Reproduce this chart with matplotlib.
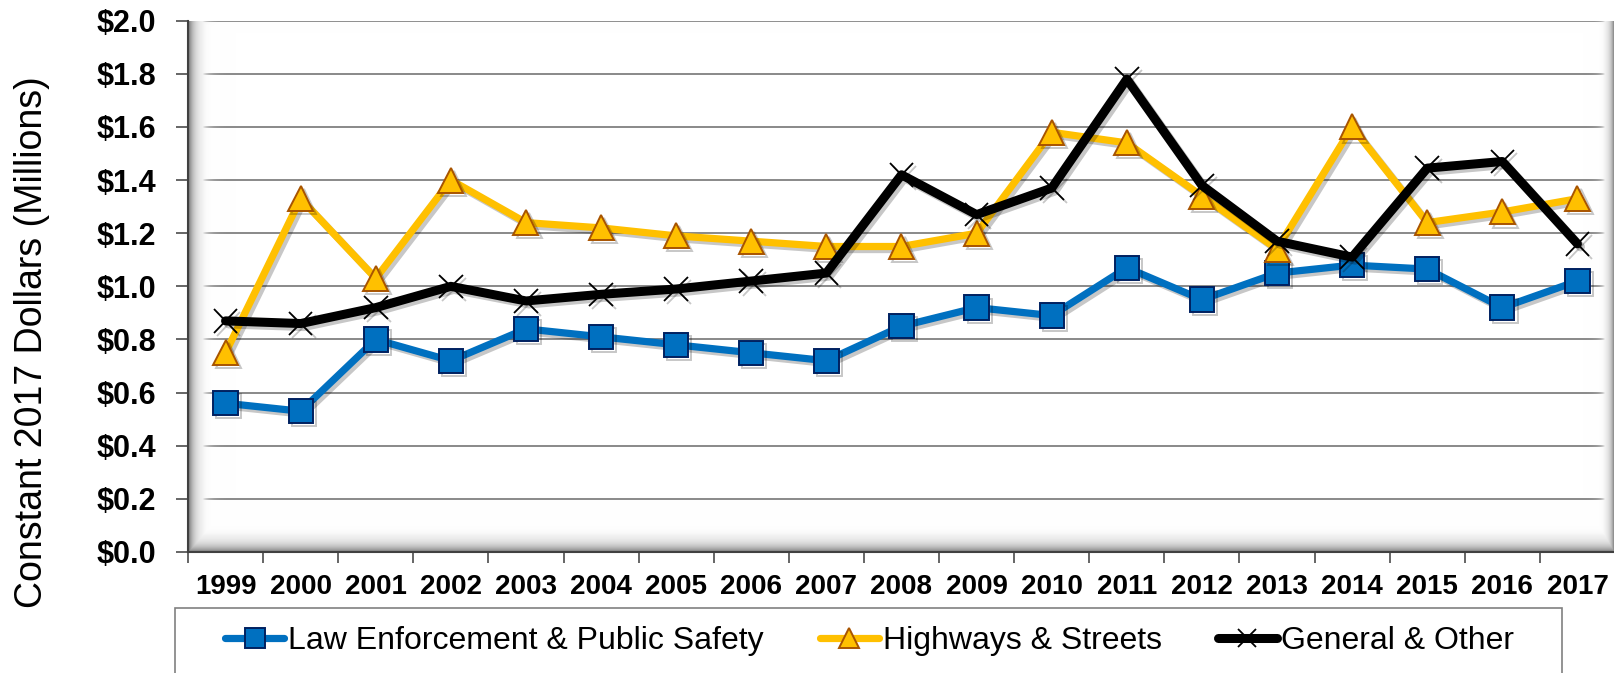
import numpy as np
import matplotlib
matplotlib.use("Agg")
import matplotlib.pyplot as plt
from matplotlib.patches import Rectangle
from matplotlib.lines import Line2D
import matplotlib.patheffects as pe

years = ["1999", "2000", "2001", "2002", "2003", "2004", "2005", "2006", "2007",
         "2008", "2009", "2010", "2011", "2012", "2013", "2014", "2015", "2016", "2017"]
law = [0.56, 0.53, 0.80, 0.72, 0.84, 0.81, 0.78, 0.75, 0.72, 0.85,
       0.92, 0.89, 1.07, 0.95, 1.05, 1.08, 1.065, 0.92, 1.02]
hwy = [0.75, 1.33, 1.03, 1.40, 1.24, 1.22, 1.19, 1.17, 1.15, 1.15,
       1.20, 1.58, 1.54, 1.34, 1.14, 1.60, 1.24, 1.28, 1.33]
gen = [0.87, 0.86, 0.92, 1.00, 0.945, 0.97, 0.99, 1.02, 1.05, 1.42,
       1.27, 1.37, 1.78, 1.38, 1.17, 1.11, 1.445, 1.47, 1.16]
y_ticks = [0.0, 0.2, 0.4, 0.6, 0.8, 1.0, 1.2, 1.4, 1.6, 1.8, 2.0]
series_names = ["Law Enforcement & Public Safety", "Highways & Streets", "General & Other"]

plt.rcParams["font.family"] = ["Liberation Sans", "DejaVu Sans"]

W_PX, H_PX = 1615, 673
fig = plt.figure(figsize=(W_PX / 100, H_PX / 100), dpi=100)
ax_l, ax_r, ax_t, ax_b = 188, 1615, 20.7, 552
ax = fig.add_axes([ax_l / W_PX, 1 - ax_b / H_PX, (ax_r - ax_l) / W_PX, (ax_b - ax_t) / H_PX])

x = np.arange(len(years))

# inner bevel shading of plot area
H, W = int(ax_b - ax_t), int(ax_r - ax_l)
yy, xx = np.mgrid[0:H, 0:W]
side = np.maximum.reduce([0.55 * np.exp(-xx / 6.0),
                          0.5 * np.exp(-(H - 1 - yy) / 7.0),
                          0.55 * np.exp(-(W - 1 - xx) / 4.0)])
top = 0.08 * np.exp(-yy / 4.0)
shade = np.maximum(side, top)
alpha = np.maximum(np.clip(side / 0.05, 0, 1), top)
img = np.zeros((H, W, 4))
img[..., 0] = img[..., 1] = img[..., 2] = 1 - shade
img[..., 3] = alpha
ax.imshow(img, extent=[0, 1, 0, 1], transform=ax.transAxes, aspect="auto",
          zorder=1.5, interpolation="bilinear")

shadow = [pe.SimpleLineShadow(offset=(2.2, -2.2), shadow_color="k", alpha=0.22), pe.Normal()]

styles = [
    dict(color="#0070C0", lw=5.2, marker="s", markersize=17.5, mfc="#0070C0", mec="#002060", mew=1.4),
    dict(color="#FFC000", lw=5.2, marker="^", markersize=18, mfc="#FFC000", mec="#A85400", mew=1.4),
    dict(color="#000000", lw=6.5, marker="x", markersize=17, mfc="none", mec="#000000", mew=1.3),
]
for vals, st in zip([law, hwy, gen], styles):
    ax.plot(x, vals, solid_capstyle="round", solid_joinstyle="round",
            zorder=3, path_effects=shadow, **st)

ax.set_xlim(-0.5, len(years) - 0.5)
ax.set_ylim(0, 2.0)
ax.set_yticks(y_ticks)
ax.set_yticklabels(["${:.1f}".format(v) for v in y_ticks], fontsize=22, fontweight="bold")
ax.yaxis.grid(True, color="#808080", lw=1.3, zorder=1)
ax.set_axisbelow(True)
ax.tick_params(axis="y", length=9, width=1.3, color="#595959", pad=14, direction="out")

ax.set_xticks(np.arange(-0.5, len(years), 1.0))
ax.set_xticklabels([])
ax.set_xticks(x, minor=True)
ax.set_xticklabels(years, minor=True, fontsize=20, fontweight="bold")
ax.tick_params(axis="x", which="major", length=8, width=1.3, color="#595959", direction="out")
ax.tick_params(axis="x", which="minor", length=0, pad=16)

for s in ["top", "right"]:
    ax.spines[s].set_visible(False)
for s in ["left", "bottom"]:
    ax.spines[s].set_color("#404040")
    ax.spines[s].set_linewidth(1.5)
    ax.spines[s].set_zorder(2)

fig.text(32 / W_PX, 1 - 342 / H_PX, "Constant 2017 Dollars (Millions)", rotation=90,
         ha="center", va="center", fontsize=27)

# legend
fig.add_artist(Rectangle((175 / W_PX, -0.02), (1562 - 175) / W_PX, 0.02 + (673 - 608) / H_PX,
                         transform=fig.transFigure, fill=False, edgecolor="#808080", lw=1.2))
handles = []
for st in styles:
    handles.append(Line2D([], [], solid_capstyle="round", **st))
fig.legend(handles, series_names, loc="center", bbox_to_anchor=(869.5 / W_PX, 1 - 641 / H_PX),
           ncol=3, frameon=False, fontsize=23, handlelength=1.85, handletextpad=0.12,
           columnspacing=1.75, borderpad=0, markerscale=0.8)

fig.savefig("out.png", dpi=100)
